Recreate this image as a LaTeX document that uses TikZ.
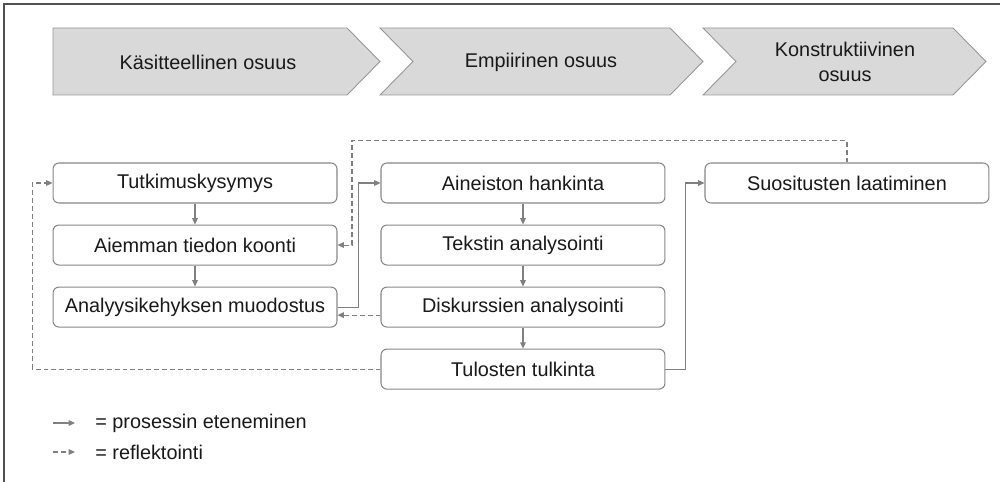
\documentclass[tikz,border=0pt]{standalone}
\usepackage{fontspec}
\setmainfont{Liberation Sans}
\definecolor{viivaHarmaa}{RGB}{128,128,128}
\definecolor{laatikkoReuna}{RGB}{135,135,135}
\definecolor{vaiheTausta}{RGB}{217,217,217}
\definecolor{vaiheReuna}{RGB}{150,150,150}
\definecolor{kehysHarmaa}{RGB}{80,80,80}
\usetikzlibrary{arrows.meta, positioning, calc}

\begin{document}
\begin{tikzpicture}[
  x=0.02cm, y=-0.02cm,
  every node/.style={font=\fontsize{11.3}{14.2}\selectfont, text=black!90},
  phase/.style={draw=vaiheReuna, fill=vaiheTausta, line width=0.5pt, line join=miter},
  phasetext/.style={inner sep=0pt, align=center},
  box/.style={rectangle, rounded corners=3.4pt, draw=laatikkoReuna, fill=white,
              line width=0.6pt, minimum width=5.68cm, minimum height=0.8cm,
              inner sep=0pt, align=center},
  flow/.style={-{Triangle[length=3.6pt,width=3.2pt]}, viivaHarmaa, line width=0.6pt},
  refl/.style={flow, dash pattern=on 2.8pt off 1.7pt},
  legtext/.style={anchor=west, inner sep=0pt},
  node distance=0.42cm and 0.86cm
]
\useasboundingbox (0,0) rectangle (1000,482);

% Kehys
\draw[kehysHarmaa, line width=0.9pt] (4,482) -- (4,4) -- (1000,4);

% Vaiheet
\draw[phase] (53,28) -- (347,28) -- (380,61.5) -- (347,95) -- (53,95) -- cycle;
\draw[phase] (380,28) -- (670,28) -- (703,61.5) -- (670,95) -- (380,95) -- (413,61.5) -- cycle;
\draw[phase] (703,28) -- (953,28) -- (986,61.5) -- (953,95) -- (703,95) -- (736,61.5) -- cycle;
\node[phasetext] (kasit) at (208,62) {Käsitteellinen osuus};
\node[phasetext] (empir) at (541,62) {Empiirinen osuus};
\node[phasetext] (konst) at (845,62) {Konstruktiivinen\\osuus};

% Vasen sarake
\node[box] (tutk) at (195,183) {Tutkimuskysymys};
\node[box, below=of tutk] (aiem) {Aiemman tiedon koonti};
\node[box, below=of aiem] (anal) {Analyysikehyksen muodostus};

% Keskisarake
\node[box, right=of tutk] (aine) {Aineiston hankinta};
\node[box, below=of aine] (teks) {Tekstin analysointi};
\node[box, below=of teks] (disk) {Diskurssien analysointi};
\node[box, below=of disk] (tulo) {Tulosten tulkinta};

% Oikea sarake
\node[box, right=0.78cm of aine] (suos) {Suositusten laatiminen};

% Prosessin eteneminen
\draw[flow] (tutk) -- (aiem);
\draw[flow] (aiem) -- (anal);
\draw[flow] (anal.east) -- ++(21,0) |- (aine.west);
\draw[flow] (aine) -- (teks);
\draw[flow] (teks) -- (disk);
\draw[flow] (disk) -- (tulo);
\draw[flow] (tulo.east) -- ++(20,0) |- (suos.west);

% Reflektointi
\draw[refl] (suos.north) |- ++(-495,-22) |- (aiem.east);
\draw[refl] ($(disk.west)+(0,8)$) -- ($(anal.east)+(0,8)$);
\draw[refl] (tulo.west) -- ++(-348,0) |- (tutk.west);

% Selite
\coordinate (s1) at (53,423);
\coordinate (s2) at (53,452);
\node[legtext] (leg1) at (95,423) {= prosessin eteneminen};
\node[legtext] (leg2) at (95,452) {= reflektointi};
\draw[flow] (s1) -- ++(22,0);
\draw[refl] (s2) -- ++(22,0);

\end{tikzpicture}
\end{document}
